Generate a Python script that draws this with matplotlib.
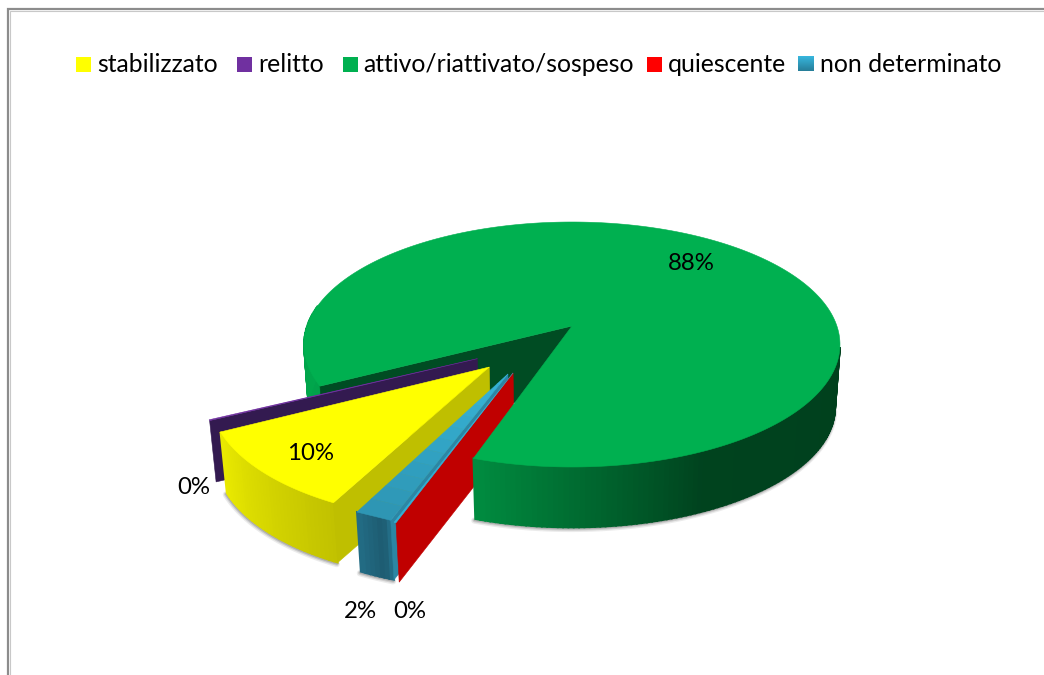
import numpy as np
import matplotlib
matplotlib.use("Agg")
import matplotlib.pyplot as plt
from matplotlib.patches import Rectangle

# ---- data ----
categories = ["stabilizzato", "relitto", "attivo/riattivato/sospeso", "quiescente", "non determinato"]
values = [10.0, 0.1, 87.9, 0.1, 1.9]
tick_labels = [f"{round(v):d}%" for v in values]

# ---- style / layout ----
top_colors = ["#FFFF00", "#7030A0", "#00B050", "#FF0000", "#33B0D4"]
wall_colors = ["#BFBF00", "#331A50", "#004C23", "#C00000", "#2C86A4"]
explode = [(-.297, .326, .985), (-.343, .262, .985), (0, 0, 1.0), (-.21, .37, 1.0), (-.228, .378, .98)]
angle_shift = [0.5, 1.2, -0.2, 0, 0]
label_pos = [(311, 452), (194, 487), (691, 262), (410, 610), (360, 610)]
legend_box_x = [76, 237, 343, 647, 798]
legend_text_x = [97, 258, 363, 668, 820]
FONT = "Lato"
LEG_SIZE = 17.8
LAB_SIZE = 17.3
START = 26.0
CX, CY, R, RY, K = 572.0, 326.0, 264.9, 119.7, 0.151
DEPTH_SCALE, H = 0.982, 63.0

fig = plt.figure(figsize=(10.44, 6.75), dpi=100, facecolor="white")
ax = fig.add_axes([0, 0, 1, 1])
ax.set_xlim(0, 1044)
ax.set_ylim(675, 0)
ax.axis("off")


def top(u, v):
    w = 1 - K * np.asarray(v)
    return CX + R * np.asarray(u) / w, CY + RY * np.asarray(v) / w


def bottom(u, v):
    x, y = top(u, v)
    return CX + (x - CX) * DEPTH_SCALE, CY + (y - CY) * DEPTH_SCALE + H


def rim(t, off, frac_r=1.0):
    t = np.radians(t)
    rad = off[2] * frac_r
    return off[0] - rad * np.sin(t), off[1] + rad * np.cos(t)


def shade(c, f):
    rgb = np.array(matplotlib.colors.to_rgb(c))
    return tuple(np.clip(rgb * f, 0, 1))


def wall_factor(t):
    t = ((np.asarray(t) + 90) % 360) - 90
    return np.interp(t, [-90, -25, 19, 21, 27, 63, 100, 270],
                     [.36, .38, .80, .62, .76, .92, .95, .36])


def fill(xs, ys, color, z, lw=0.4):
    ax.fill(xs, ys, facecolor=color, edgecolor=color, lw=lw, zorder=z)


def draw_shadow(t0, t1, off, z):
    ts = np.linspace(t0, t1, 80)
    x, y = bottom(*rim(ts, off))
    for dy, lw, a in [(1.5, 4.5, .10), (1.2, 3, .16), (1.0, 1.6, .22)]:
        ax.plot(x - dy * .6, y + dy, color="#404040", lw=lw, alpha=a, zorder=z,
                solid_capstyle="round")


def draw_outer(t0, t1, off, base, z):
    ts = np.linspace(t0, t1, max(3, int(abs(t1 - t0) * 1.0) + 2))
    for a, b in zip(ts[:-1], ts[1:]):
        tt = np.array([a, b])
        xt, yt = top(*rim(tt, off))
        xb, yb = bottom(*rim(tt, off))
        fill(np.r_[xt, xb[::-1]], np.r_[yt, yb[::-1]],
             shade(base, wall_factor((a + b) / 2)), z, lw=1.3)


def draw_cut(t, off, color, z):
    end = rim(t, off)
    us = np.array([off[0], end[0]])
    vs = np.array([off[1], end[1]])
    xt, yt = top(us, vs)
    xb, yb = bottom(us, vs)
    fill(np.r_[xt, xb[::-1]], np.r_[yt, yb[::-1]], color, z)


def draw_top(t0, t1, off, color, z):
    ts = np.linspace(t0, t1, max(3, int(abs(t1 - t0) * 2) + 2))
    u, v = rim(ts, off)
    x, y = top(np.r_[off[0], u], np.r_[off[1], v])
    fill(x, y, color, z)


# wedge angles, clockwise from the front of the pie, in data order
frac = np.array(values) / sum(values) * 360
t_start = START + np.r_[0, np.cumsum(frac)[:-1]] + np.array(angle_shift)
t_end = t_start + frac

# main (attivo) slice - back part first
g = 2
draw_outer(t_start[g], 100, explode[g], top_colors[g], 1)
draw_cut(t_start[g], explode[g], wall_colors[g], 2)

# relitto
i = 1
draw_cut(t_start[i], explode[i], wall_colors[i], 3)
draw_top(t_start[i], t_end[i], explode[i], top_colors[i], 3.1)

# stabilizzato
i = 0
draw_shadow(t_start[i], t_end[i], explode[i], 3.5)
draw_outer(t_start[i], t_end[i], explode[i], top_colors[i], 4)
draw_cut(t_start[i], explode[i], wall_colors[i], 4.1)
draw_top(t_start[i], t_end[i], explode[i], top_colors[i], 4.2)

# non determinato
i = 4
draw_shadow(t_start[i], t_end[i], explode[i], 4.5)
draw_outer(t_start[i], t_end[i], explode[i], "#2F93B5", 5)
draw_cut(t_start[i], explode[i], wall_colors[i], 5.1)
steps = np.linspace(0, 1, 13)
for r0, r1 in zip(steps[:-1], steps[1:]):
    ts = np.array([t_start[i], t_end[i]])
    ui, vi = rim(ts, explode[i], r0)
    uo, vo = rim(ts, explode[i], r1)
    x, y = top(np.r_[ui, uo[::-1]], np.r_[vi, vo[::-1]])
    c = np.array(matplotlib.colors.to_rgb("#37B4D8")) * (1 - .18 * r0)
    fill(x, y, tuple(c), 5.2)

# quiescente
i = 3
draw_cut(t_start[i], explode[i], wall_colors[i], 6)
draw_top(t_start[i], t_end[i], explode[i], "#33B0D4", 6.1)

# main slice - front part and top
draw_shadow(280, t_end[g], explode[g], 6.5)
draw_outer(280, t_end[g], explode[g], top_colors[g], 7)
draw_top(t_start[g], t_end[g], explode[g], top_colors[g], 8)

# frame
ax.plot([8, 8, 1044], [675, 9, 9], color="#8C8C8C", lw=1.6, zorder=20,
        solid_joinstyle="miter")
ax.plot([9.5, 9.5, 1044], [675, 10.5, 10.5], color="#C8C8C8", lw=0.8, zorder=20,
        solid_joinstyle="miter")

# legend
for i, (name, bx, tx) in enumerate(zip(categories, legend_box_x, legend_text_x)):
    if i == 4:
        for k in range(15):
            c = np.array(matplotlib.colors.to_rgb("#37B5DC")) * (1 - .3 * k / 14)
            ax.add_patch(Rectangle((bx, 56 + k), 16, 1.1, facecolor=tuple(c), lw=0, zorder=21))
    else:
        ax.add_patch(Rectangle((bx, 57), 15, 15, facecolor=top_colors[i], lw=0, zorder=21))
    ax.text(tx, 65, name, family=FONT, fontsize=LEG_SIZE, color="black",
            ha="left", va="center", zorder=22)

# data labels
for lab, (x, y) in zip(tick_labels, label_pos):
    ax.text(x, y + 1, lab, family=FONT, fontsize=LAB_SIZE, color="black",
            ha="center", va="center", zorder=22)

fig.savefig("out.png", dpi=100, facecolor="white")
